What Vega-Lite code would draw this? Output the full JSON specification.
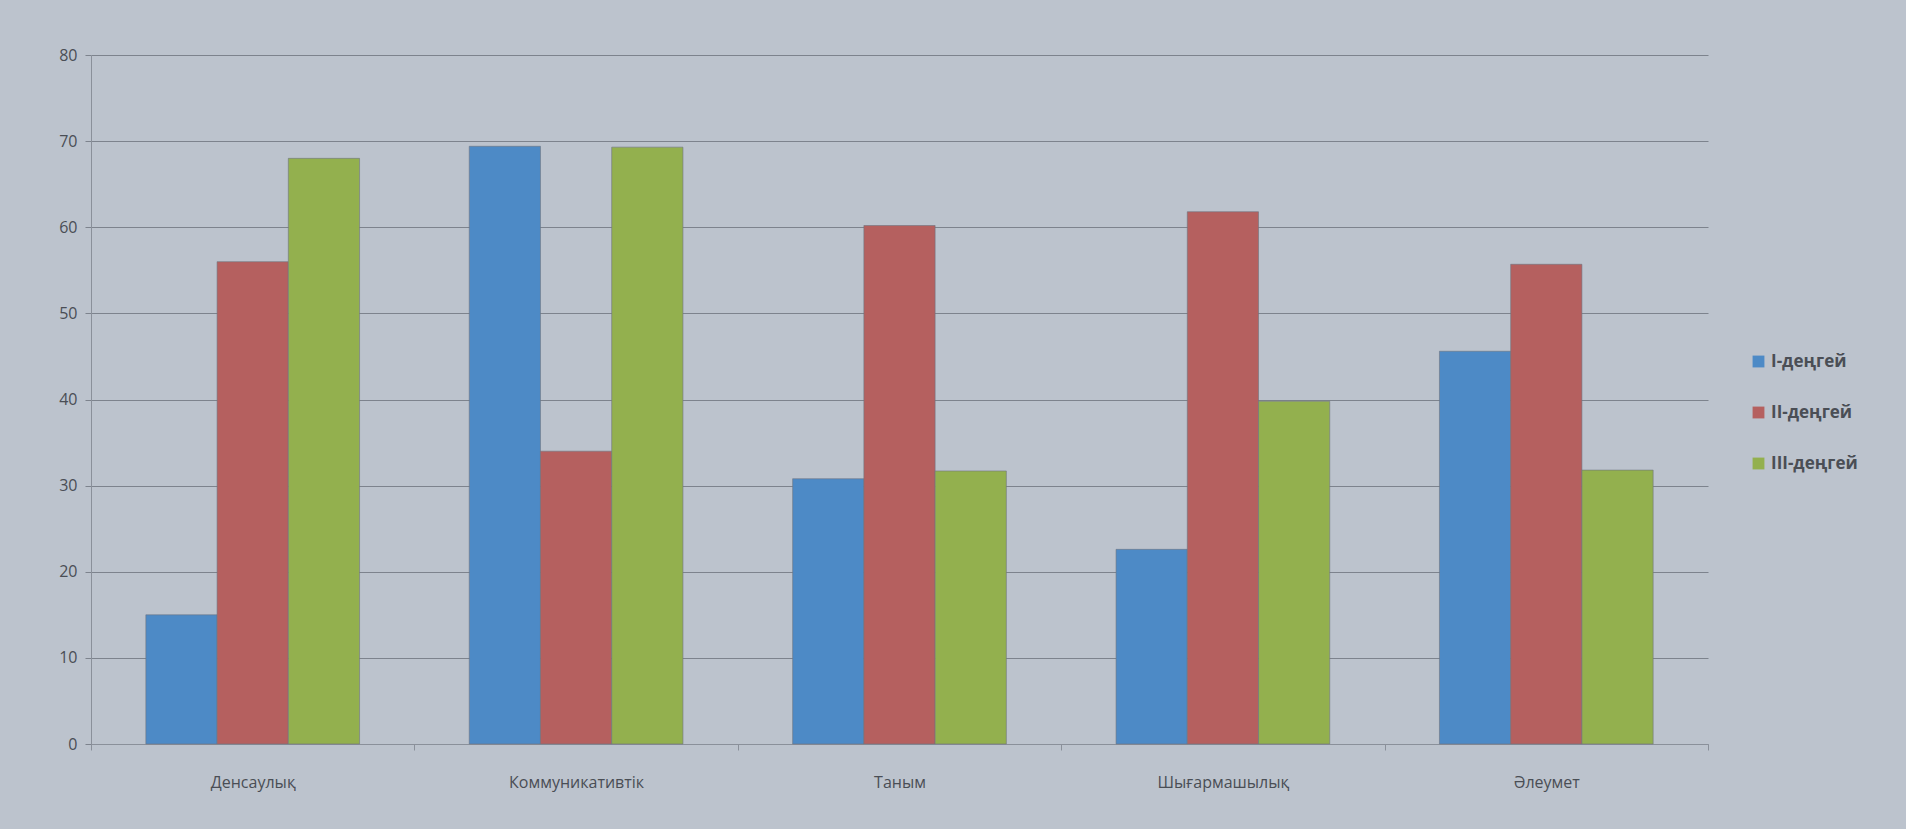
{
  "$schema": "https://vega.github.io/schema/vega-lite/v6.json",
  "autosize": "none",
  "width": 1617,
  "height": 689,
  "padding": {"left": 91, "top": 55, "right": 198, "bottom": 85},
  "background": "#bcc3cd",
  "config": {
    "view": {"stroke": null},
    "font": "Open Sans"
  },
  "data": {
    "values": [
      {"category": "Денсаулық", "level": "I-деңгей", "value": 15},
      {"category": "Денсаулық", "level": "II-деңгей", "value": 56},
      {"category": "Денсаулық", "level": "III-деңгей", "value": 68},
      {"category": "Коммуникативтік", "level": "I-деңгей", "value": 69.4},
      {"category": "Коммуникативтік", "level": "II-деңгей", "value": 34},
      {"category": "Коммуникативтік", "level": "III-деңгей", "value": 69.3},
      {"category": "Таным", "level": "I-деңгей", "value": 30.8},
      {"category": "Таным", "level": "II-деңгей", "value": 60.2},
      {"category": "Таным", "level": "III-деңгей", "value": 31.7},
      {"category": "Шығармашылық", "level": "I-деңгей", "value": 22.6},
      {"category": "Шығармашылық", "level": "II-деңгей", "value": 61.8},
      {"category": "Шығармашылық", "level": "III-деңгей", "value": 39.8},
      {"category": "Әлеумет", "level": "I-деңгей", "value": 45.6},
      {"category": "Әлеумет", "level": "II-деңгей", "value": 55.7},
      {"category": "Әлеумет", "level": "III-деңгей", "value": 31.8}
    ]
  },
  "mark": {"type": "bar", "stroke": "#6e7480", "strokeWidth": 0.6},
  "encoding": {
    "x": {
      "field": "category",
      "type": "nominal",
      "sort": null,
      "scale": {"paddingInner": 0, "paddingOuter": 0},
      "axis": {
        "title": null,
        "labelAngle": 0,
        "labelFontSize": 16,
        "labelColor": "#4a4e55",
        "labelPadding": 24,
        "ticks": true,
        "tickBand": "extent",
        "tickSize": 6,
        "tickColor": "#8a909a",
        "domainColor": "#8a909a",
        "grid": false
      }
    },
    "xOffset": {
      "field": "level",
      "type": "nominal",
      "sort": null,
      "scale": {"paddingInner": 0, "paddingOuter": 0.77}
    },
    "y": {
      "field": "value",
      "type": "quantitative",
      "scale": {"domain": [0, 80], "nice": false},
      "axis": {
        "title": null,
        "values": [0, 10, 20, 30, 40, 50, 60, 70, 80],
        "labelFontSize": 16,
        "labelColor": "#4a4e55",
        "labelPadding": 8,
        "tickSize": 6,
        "tickColor": "#7d838d",
        "domain": true,
        "domainColor": "#8a909a",
        "gridColor": "#7d838d",
        "gridWidth": 1.2
      }
    },
    "color": {
      "field": "level",
      "type": "nominal",
      "sort": null,
      "scale": {"range": ["#4d8ac6", "#b5605f", "#93b04e"]},
      "legend": {
        "title": null,
        "orient": "none",
        "legendX": 1659,
        "legendY": 298,
        "symbolType": "square",
        "symbolSize": 140,
        "symbolStrokeWidth": 0,
        "labelFontSize": 17,
        "labelFontWeight": "bold",
        "labelColor": "#4a4e55",
        "rowPadding": 33
      }
    }
  }
}
